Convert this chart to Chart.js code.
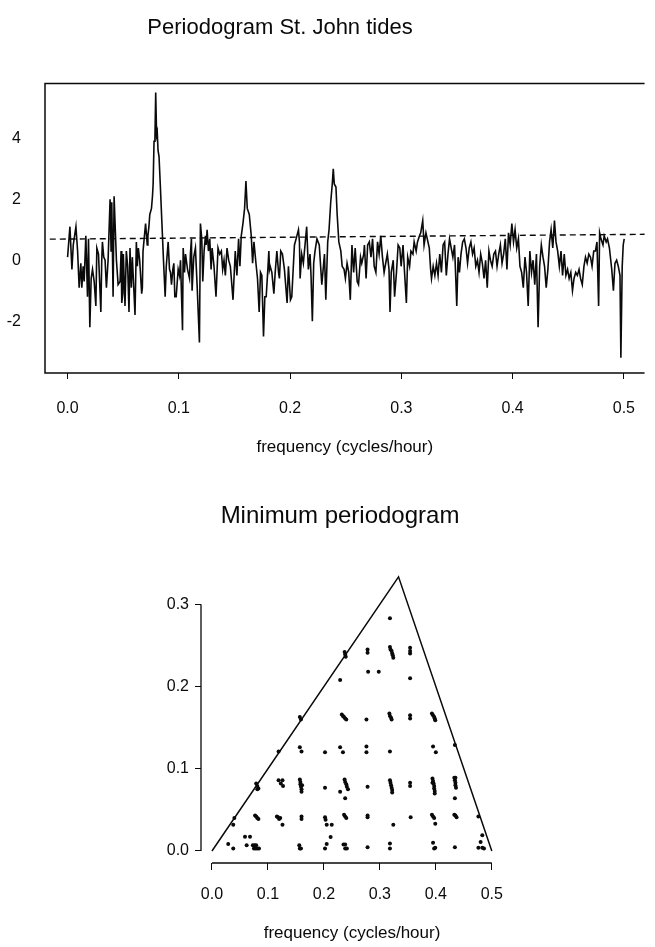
<!DOCTYPE html>
<html><head><meta charset="utf-8">
<script src="https://cdn.jsdelivr.net/npm/chart.js@4.4.0/dist/chart.umd.min.js"></script>
<style>
html,body{margin:0;padding:0;background:#fff;}
#wrap{position:relative;width:655px;height:947px;overflow:hidden;background:#fff;}
canvas{position:absolute;}
#c1{top:0;left:-95px;} #c2{top:470px;left:0;}
</style></head><body>
<div id="wrap"><canvas id="c1" width="750" height="470"></canvas><canvas id="c2" width="680" height="477"></canvas></div>
<script>
// ---- Top chart: log periodogram of St. John tides ----
const periodFreq = [
0.0000,0.0021,0.0039,0.0051,0.0075,0.0090,0.0104,0.0119,0.0128,0.0140,0.0149,0.0164,0.0179,0.0188,0.0200,0.0212,0.0224,0.0239,0.0254,0.0263,
0.0278,0.0299,0.0307,0.0313,0.0325,0.0337,0.0349,0.0364,0.0382,0.0391,0.0397,0.0409,0.0418,0.0433,0.0439,0.0454,0.0472,0.0481,0.0487,0.0496,
0.0501,0.0516,0.0528,0.0540,0.0552,0.0561,0.0573,0.0582,0.0606,0.0618,0.0627,0.0636,0.0648,0.0666,0.0672,0.0678,0.0701,0.0716,0.0722,0.0731,
0.0739,0.0754,0.0763,0.0769,0.0777,0.0785,0.0792,0.0800,0.0806,0.0813,0.0822,0.0833,0.0848,0.0862,0.0877,0.0887,0.0904,0.0916,0.0925,0.0934,0.0946,0.0955,
0.0964,0.0976,0.0994,0.1006,0.1015,0.1033,0.1039,0.1051,0.1060,0.1078,0.1096,0.1104,0.1113,0.1119,0.1134,0.1149,0.1164,0.1185,0.1194,0.1206,
0.1215,0.1227,0.1239,0.1245,0.1254,0.1266,0.1278,0.1290,0.1299,0.1316,0.1334,0.1352,0.1367,0.1382,0.1394,0.1406,0.1418,0.1433,0.1448,0.1463,
0.1487,0.1507,0.1522,0.1537,0.1549,0.1561,0.1576,0.1591,0.1603,0.1615,0.1633,0.1651,0.1663,0.1675,0.1693,0.1707,0.1722,0.1734,0.1746,0.1761,
0.1773,0.1785,0.1800,0.1809,0.1815,0.1821,0.1836,0.1854,0.1866,0.1881,0.1896,0.1904,0.1916,0.1931,0.1949,0.1973,0.1985,0.2003,0.2015,0.2039,
0.2054,0.2075,0.2084,0.2090,0.2104,0.2119,0.2149,0.2164,0.2179,0.2188,0.2200,0.2212,0.2224,
0.2241,0.2262,0.2285,0.2309,0.2321,0.2338,0.2350,0.2365,0.2379,0.2388,0.2397,0.2412,0.2423,0.2438,0.2456,0.2468,0.2485,0.2497,0.2512,0.2527,
0.2541,0.2556,0.2571,0.2585,0.2603,0.2615,0.2633,0.2644,0.2662,0.2668,0.2683,0.2697,0.2712,0.2727,0.2741,0.2756,0.2771,0.2786,0.2800,0.2815,
0.2830,0.2845,0.2859,0.2874,0.2889,0.2898,0.2909,0.2927,0.2939,0.2956,0.2971,0.2986,0.2998,0.3015,0.3027,0.3045,0.3057,0.3074,0.3086,0.3104,
0.3115,0.3133,0.3145,0.3163,0.3174,0.3192,0.3204,0.3221,0.3233,0.3251,0.3263,0.3271,0.3286,0.3301,0.3316,0.3330,0.3345,0.3360,0.3375,0.3389,
0.3404,0.3419,0.3433,0.3448,0.3463,0.3478,0.3498,0.3510,0.3522,0.3536,0.3551,0.3566,0.3581,0.3595,0.3610,0.3625,0.3640,0.3654,0.3669,0.3684,
0.3698,0.3713,0.3728,0.3743,0.3757,0.3772,0.3787,0.3801,0.3816,0.3831,0.3846,0.3860,0.3875,0.3890,0.3905,0.3919,0.3934,0.3949,0.3963,0.3978,
0.3993,0.4008,0.4022,0.4037,0.4052,0.4066,0.4081,0.4096,0.4111,0.4125,0.4140,0.4155,0.4170,0.4184,0.4199,0.4214,0.4229,0.4243,0.4258,0.4273,
0.4287,0.4302,0.4317,0.4332,0.4346,0.4361,0.4376,0.4390,0.4405,0.4420,0.4435,0.4449,0.4464,0.4479,0.4494,0.4508,0.4523,0.4538,0.4552,0.4567,
0.4582,0.4597,0.4611,0.4626,0.4641,0.4655,0.4670,0.4685,0.4700,0.4714,0.4729,0.4744,0.4758,0.4773,0.4782,0.4794,0.4812,0.4823,0.4841,0.4853,
0.4870,0.4891,0.4906,0.4920,0.4935,0.4950,0.4965,0.4973,0.4985,0.4994,0.5003
];
const logPeriodogram = [
0.1,1.1,-0.3,0.5,1.1,0.3,-0.9,-0.1,-0.9,-0.2,-0.7,0.8,-1.2,0.7,-2.2,-0.6,-0.3,-0.7,-1.5,0.4,
0.2,-1.7,0.0,0.6,0.1,0.0,-0.9,0.0,2.0,0.3,1.9,-1.2,2.1,0.6,0.0,-0.8,-0.7,0.3,-1.4,-1.1,
0.2,-1.5,0.3,-0.2,-1.7,0.4,-0.9,0.1,-1.8,0.6,-0.2,0.4,0.0,-1.1,-0.9,0.3,1.2,0.5,0.8,1.1,
1.5,1.7,2.1,2.5,3.9,4.0,5.5,4.1,4.2,3.6,3.4,2.5,1.2,0.0,-1.2,-0.2,0.6,-0.3,-0.4,-0.8,-0.3,-0.1,
-1.2,-1.2,-0.3,-0.5,0.0,-2.3,0.4,-0.4,0.2,-0.3,-0.6,0.2,0.7,-1.0,0.1,0.4,-0.8,-2.7,1.2,0.7,
-0.7,0.3,0.8,0.5,1.0,0.3,0.7,-0.3,0.4,-0.2,-1.2,0.4,0.2,0.3,-0.3,0.0,-0.5,0.4,0.0,-0.2,
-1.3,0.3,-0.5,0.7,-0.2,0.8,1.2,1.7,2.6,1.7,1.5,0.8,-0.1,0.6,-0.1,-0.6,-1.7,-0.4,-0.5,-2.5,
-1.2,-1.2,-0.3,0.3,-0.3,-0.2,-0.4,-1.1,-0.4,0.3,-0.4,-0.6,0.3,0.2,-0.3,-1.4,-0.2,-1.3,-1.2,0.5,
0.7,1.0,0.6,-0.6,0.2,-0.1,1.1,-0.3,0.2,-0.5,-2.0,-0.1,0.3,
0.7,0.5,-0.8,0.2,-1.3,0.6,1.0,1.9,2.5,3.0,2.5,2.4,1.5,0.6,0.3,-0.2,-0.3,-0.6,-0.1,-0.4,
-1.3,0.5,-0.4,0.4,-0.7,-0.8,0.1,-0.1,0.2,0.5,-0.6,0.5,0.6,0.1,0.7,-0.2,-0.4,0.6,0.2,0.8,
0.1,-0.4,-0.1,0.2,-0.3,-1.7,-0.4,0.0,-1.2,-0.4,0.5,0.4,-0.2,0.5,-0.3,-1.4,0.1,-0.2,0.3,0.2,
0.6,0.3,0.6,0.8,0.9,1.3,0.5,0.9,0.7,0.4,-0.3,-0.6,-0.2,-0.5,-0.1,-0.5,0.2,-0.4,0.5,0.6,
-0.5,0.2,0.7,0.4,0.1,0.5,-1.5,0.1,-0.4,0.2,0.6,0.7,0.4,-0.1,0.4,0.6,0.2,0.4,-0.2,0.0,
-0.4,0.2,-0.1,-0.6,0.0,-0.9,0.3,0.0,-0.2,0.2,0.3,-0.2,0.2,0.5,-0.1,0.2,0.7,-0.3,0.9,0.5,
1.2,0.6,1.0,0.4,0.7,-0.2,-0.4,-0.9,0.1,-0.4,-1.5,0.3,-0.4,0.0,-0.8,0.2,-2.2,-0.2,0.5,0.1,
-0.2,-0.9,-0.3,0.6,1.0,0.4,1.3,0.6,0.3,-0.2,0.3,-0.5,0.2,-0.5,-0.3,-0.6,-0.4,-1.0,-0.6,-0.4,
-0.5,-0.3,-0.6,-0.8,-0.2,0.1,-0.1,0.2,0.1,-0.2,0.3,0.3,0.6,-1.5,0.9,0.7,0.5,0.8,0.6,0.7,
0.4,-0.3,-1.0,-0.1,0.0,-0.2,-0.5,-3.2,-0.2,0.5,0.7
];
const thresholdFreq = [-0.016, 0.52];
const thresholdLevel = [0.69, 0.85];
const topXTicks = [0.0, 0.1, 0.2, 0.3, 0.4, 0.5];
const topYTicks = [-2, 0, 2, 4];

// ---- Bottom chart: minimum periodogram (frequency pairs f1, f2) ----
const minF1 = [
// f2 near 0
0.029,0.038,0.059,0.068,0.062,0.073,0.076,0.079,0.075,0.078,0.081,0.084,0.156,0.157,0.159,0.202,0.205,0.212,
0.235,0.238,0.238,0.241,0.278,0.318,0.318,0.395,0.397,0.399,0.434,0.476,0.480,0.483,0.486,0.483,
// f2 near 0.04
0.040,0.038,0.077,0.079,0.081,0.083,0.116,0.118,0.120,0.122,0.126,0.160,0.160,0.202,0.203,0.205,0.214,
0.236,0.238,0.240,0.278,0.278,0.324,0.355,0.393,0.395,0.397,0.399,0.433,0.435,0.437,0.476,
// f2 near 0.08
0.079,0.081,0.083,0.081,0.119,0.123,0.127,0.126,0.157,0.158,0.158,0.159,0.160,0.160,0.161,0.202,0.229,
0.237,0.238,0.240,0.241,0.243,0.238,0.278,0.318,0.319,0.320,0.321,0.322,0.322,0.354,0.354,
0.394,0.395,0.396,0.397,0.397,0.398,0.398,0.394,0.433,0.435,0.434,0.435,0.435,0.436,0.434,
// f2 near 0.12
0.119,0.157,0.160,0.202,0.229,0.234,0.276,0.276,0.318,0.395,0.400,0.434,
// f2 near 0.16
0.157,0.159,0.232,0.234,0.236,0.238,0.240,0.276,0.317,0.318,0.320,0.321,0.354,0.354,0.393,0.395,0.397,0.398,0.399,
// f2 near 0.21
0.229,0.279,0.298,0.354,
// f2 near 0.24
0.237,0.238,0.239,0.278,0.278,0.318,0.319,0.321,0.322,0.323,0.324,0.354,0.354,0.354,
// f2 near 0.28
0.318
];
const minF2 = [
0.0085,0.003,0.0174,0.0174,0.007,0.007,0.007,0.007,0.003,0.003,0.003,0.003,0.007,0.003,0.003,0.003,0.0085,0.017,
0.008,0.008,0.003,0.003,0.0045,0.003,0.009,0.010,0.003,0.004,0.0045,0.004,0.011,0.004,0.003,0.019,
0.040,0.032,0.043,0.042,0.040,0.039,0.042,0.041,0.039,0.040,0.032,0.042,0.039,0.041,0.038,0.032,0.032,
0.044,0.042,0.040,0.041,0.043,0.032,0.041,0.044,0.042,0.040,0.033,0.044,0.043,0.041,0.042,
0.082,0.079,0.076,0.075,0.086,0.082,0.079,0.086,0.087,0.084,0.081,0.078,0.075,0.072,0.080,0.077,0.072,
0.087,0.084,0.081,0.078,0.075,0.064,0.078,0.086,0.083,0.080,0.077,0.074,0.071,0.083,0.079,
0.088,0.085,0.082,0.079,0.076,0.073,0.070,0.083,0.089,0.089,0.086,0.083,0.080,0.077,0.064,
0.121,0.126,0.121,0.120,0.126,0.120,0.127,0.120,0.121,0.127,0.120,0.129,
0.163,0.160,0.166,0.164,0.163,0.161,0.160,0.160,0.167,0.164,0.162,0.160,0.165,0.161,0.167,0.165,0.163,0.161,0.159,
0.208,0.218,0.218,0.210,
0.242,0.239,0.236,0.245,0.241,0.248,0.245,0.243,0.240,0.238,0.235,0.247,0.243,0.240,
0.283
];
const triangleF1 = [0, 1/3, 0.5];
const triangleF2 = [0, 1/3, 0];
const bottomXTicks = [0.0, 0.1, 0.2, 0.3, 0.4, 0.5];
const bottomYTicks = [0.0, 0.1, 0.2, 0.3];

const FONT = '"Liberation Sans", Arial, Helvetica, sans-serif';
const INK = '#0a0a0a';

const framePlugin = {
  id: 'frame',
  afterDatasetsDraw(chart, args, opts) {
    const {ctx, chartArea: a, scales} = chart;
    ctx.save();
    ctx.strokeStyle = INK;
    ctx.lineWidth = opts.lineWidth || 1.5;
    ctx.beginPath();
    if (opts.mode === 'box') {
      ctx.moveTo(a.right, a.top); ctx.lineTo(a.left, a.top);
      ctx.lineTo(a.left, a.bottom); ctx.lineTo(a.right, a.bottom);
    } else {
      const x = scales.x, y = scales.y;
      ctx.moveTo(x.getPixelForValue(opts.xFrom), a.bottom);
      ctx.lineTo(x.getPixelForValue(opts.xTo), a.bottom);
      ctx.moveTo(a.left, y.getPixelForValue(opts.yFrom));
      ctx.lineTo(a.left, y.getPixelForValue(opts.yTo));
    }
    ctx.stroke();
    ctx.restore();
  }
};

new Chart(document.getElementById('c1'), {
  type: 'line',
  data: {
    datasets: [
      {
        data: periodFreq.map((f, i) => ({x: f, y: logPeriodogram[i]})),
        borderColor: INK, borderWidth: 1.6, pointRadius: 0, tension: 0, fill: false
      },
      {
        data: thresholdFreq.map((f, i) => ({x: f, y: thresholdLevel[i]})),
        borderColor: INK, borderWidth: 1.4, borderDash: [6, 4], pointRadius: 0, fill: false
      }
    ]
  },
  options: {
    responsive: false, animation: false, devicePixelRatio: 1,
    layout: {padding: 0},
    plugins: {
      legend: {display: false}, tooltip: {enabled: false},
      title: {display: true, text: 'Periodogram St. John tides', color: INK,
        font: {family: FONT, size: 22, weight: 'normal'}, padding: {top: 15, bottom: 42}},
      frame: {mode: 'box', lineWidth: 1.5}
    },
    scales: {
      x: {
        type: 'linear', min: -0.0203, max: 0.5186,
        afterBuildTicks: s => { s.ticks = topXTicks.map(v => ({value: v})); },
        afterFit: s => { s.height = 97; },
        grid: {drawOnChartArea: false, drawTicks: true, tickLength: 6, color: INK, lineWidth: 1},
        border: {display: false},
        ticks: {color: INK, padding: 20, maxRotation: 0, autoSkip: false,
          font: {family: FONT, size: 16}, callback: v => Number(v).toFixed(1)},
        title: {display: true, text: 'frequency (cycles/hour)', color: INK,
          font: {family: FONT, size: 17}, padding: {top: 0, bottom: 12}}
      },
      y: {
        type: 'linear', min: -3.7, max: 5.8,
        afterBuildTicks: s => { s.ticks = topYTicks.map(v => ({value: v})); },
        afterFit: s => { s.width = 140; },
        grid: {display: false, drawTicks: false},
        border: {display: false},
        ticks: {color: INK, padding: 24, font: {family: FONT, size: 16}, callback: v => String(v)}
      }
    }
  },
  plugins: [framePlugin]
});

new Chart(document.getElementById('c2'), {
  type: 'scatter',
  data: {
    datasets: [
      {
        data: minF1.map((f, i) => ({x: f, y: minF2[i]})),
        backgroundColor: INK, borderColor: INK, borderWidth: 0, pointRadius: 2.0, pointStyle: 'circle'
      },
      {
        type: 'line',
        data: triangleF1.map((f, i) => ({x: f, y: triangleF2[i]})),
        borderColor: INK, borderWidth: 1.5, pointRadius: 0, tension: 0, fill: false
      }
    ]
  },
  options: {
    responsive: false, animation: false, devicePixelRatio: 1,
    layout: {padding: 0},
    plugins: {
      legend: {display: false}, tooltip: {enabled: false},
      title: {display: true, text: 'Minimum periodogram', color: INK,
        font: {family: FONT, size: 24, weight: 'normal'}, padding: {top: 32, bottom: 35}},
      frame: {mode: 'axes', lineWidth: 1.3, xFrom: 0, xTo: 0.5, yFrom: 0, yTo: 0.3}
    },
    scales: {
      x: {
        type: 'linear', min: -0.0196, max: 0.52,
        afterBuildTicks: s => { s.ticks = bottomXTicks.map(v => ({value: v})); },
        afterFit: s => { s.height = 84; },
        grid: {drawOnChartArea: false, drawTicks: true, tickLength: 7, color: INK, lineWidth: 1},
        border: {display: false},
        ticks: {color: INK, padding: 15, maxRotation: 0, autoSkip: false,
          font: {family: FONT, size: 16}, callback: v => Number(v).toFixed(1)},
        title: {display: true, text: 'frequency (cycles/hour)', color: INK,
          font: {family: FONT, size: 17}, padding: {top: 0, bottom: 3}}
      },
      y: {
        type: 'linear', min: -0.0146, max: 0.3467,
        afterBuildTicks: s => { s.ticks = bottomYTicks.map(v => ({value: v})); },
        afterFit: s => { s.width = 201; },
        grid: {drawOnChartArea: false, drawTicks: true, tickLength: 6, color: INK, lineWidth: 1},
        border: {display: false},
        ticks: {color: INK, padding: 6, font: {family: FONT, size: 16}, callback: v => Number(v).toFixed(1)}
      },
      yRight: {
        type: 'linear', position: 'right', display: true,
        afterFit: s => { s.width = 177; },
        grid: {display: false, drawTicks: false},
        border: {display: false},
        ticks: {display: false}
      }
    }
  },
  plugins: [framePlugin]
});
</script>
</body></html>
